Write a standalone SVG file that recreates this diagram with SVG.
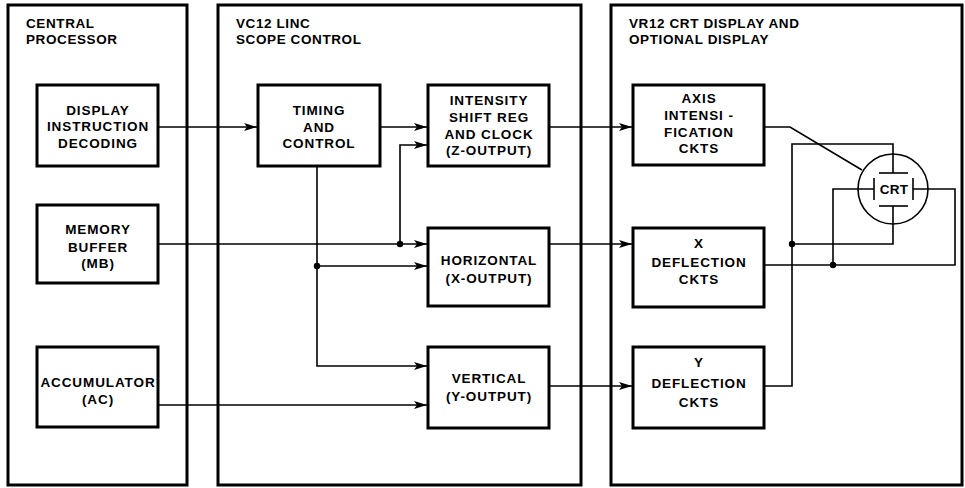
<svg xmlns="http://www.w3.org/2000/svg" width="965" height="488" viewBox="0 0 965 488">
<style>
.cont{fill:none;stroke:#000;stroke-width:3}
.box{fill:#fff;stroke:#000;stroke-width:3}
.ln{fill:none;stroke:#000;stroke-width:1.6}
.hd{font-family:"Liberation Sans",Arial,sans-serif;font-weight:bold;font-size:13.5px;letter-spacing:0.6px;fill:#000}
.t{font-family:"Liberation Sans",Arial,sans-serif;font-weight:bold;font-size:13.5px;letter-spacing:0.9px;fill:#000;text-anchor:middle}
.dot{fill:#000}
</style>
<defs>
<marker id="ah" markerUnits="userSpaceOnUse" markerWidth="14" markerHeight="10" refX="13" refY="4.5" orient="auto">
<path d="M0,0.5 L13,4.5 L0,8.5 L3,4.5 z" fill="#000"/>
</marker>
</defs>
<rect width="965" height="488" fill="#fff"/>

<g id="central-processor">
<rect class="cont" x="8" y="5" width="179" height="480"/>
<text class="hd" x="26" y="28">CENTRAL</text>
<text class="hd" x="26" y="44">PROCESSOR</text>
</g>
<g id="scope-control">
<rect class="cont" x="218" y="5" width="363" height="480"/>
<text class="hd" x="236" y="28">VC12 LINC</text>
<text class="hd" x="236" y="44">SCOPE CONTROL</text>
</g>
<g id="crt-display">
<rect class="cont" x="611" y="5" width="351" height="480"/>
<text class="hd" x="629" y="28">VR12 CRT DISPLAY AND</text>
<text class="hd" x="629" y="44">OPTIONAL DISPLAY</text>
</g>

<g id="connectors">
<line class="ln" x1="158" y1="127" x2="257" y2="127" marker-end="url(#ah)"/>
<line class="ln" x1="158" y1="244" x2="427" y2="244" marker-end="url(#ah)"/>
<line class="ln" x1="158" y1="405" x2="427" y2="405" marker-end="url(#ah)"/>
<line class="ln" x1="380" y1="127" x2="427" y2="127" marker-end="url(#ah)"/>
<polyline class="ln" points="400,244 400,145 427,145" marker-end="url(#ah)"/>
<polyline class="ln" points="317,166 317,366 427,366" marker-end="url(#ah)"/>
<line class="ln" x1="317" y1="266" x2="427" y2="266" marker-end="url(#ah)"/>
<line class="ln" x1="549" y1="127" x2="632" y2="127" marker-end="url(#ah)"/>
<line class="ln" x1="549" y1="244" x2="632" y2="244" marker-end="url(#ah)"/>
<line class="ln" x1="549" y1="386" x2="632" y2="386" marker-end="url(#ah)"/>
<polyline class="ln" points="764,127 790,127 862,170"/>
<polyline class="ln" points="764,386 792,386 792,144 893,144 893,173"/>
<polyline class="ln" points="893,206 893,244 792,244"/>
<polyline class="ln" points="874,189 833,189 833,265"/>
<polyline class="ln" points="764,265 955,265 955,189 913,189"/>
<circle class="dot" cx="400" cy="244" r="3.2"/>
<circle class="dot" cx="317" cy="266" r="3.2"/>
<circle class="dot" cx="792" cy="244" r="3.2"/>
<circle class="dot" cx="833" cy="265" r="3.2"/>
</g>

<g id="display-instruction-decoding">
<rect class="box" x="37" y="85" width="121" height="81"/>
<text class="t" x="98" y="115">DISPLAY</text>
<text class="t" x="98" y="131">INSTRUCTION</text>
<text class="t" x="98" y="148">DECODING</text>
</g>
<g id="memory-buffer">
<rect class="box" x="37" y="205" width="121" height="78"/>
<text class="t" x="98" y="234">MEMORY</text>
<text class="t" x="98" y="252">BUFFER</text>
<text class="t" x="98" y="268">(MB)</text>
</g>
<g id="accumulator">
<rect class="box" x="37" y="347" width="121" height="80"/>
<text class="t" x="98" y="387">ACCUMULATOR</text>
<text class="t" x="98" y="404">(AC)</text>
</g>
<g id="timing-and-control">
<rect class="box" x="258" y="85" width="122" height="81"/>
<text class="t" x="319" y="115">TIMING</text>
<text class="t" x="319" y="132">AND</text>
<text class="t" x="319" y="148">CONTROL</text>
</g>
<g id="intensity-shift-reg">
<rect class="box" x="428" y="85" width="121" height="81"/>
<text class="t" x="489" y="105">INTENSITY</text>
<text class="t" x="489" y="122">SHIFT REG</text>
<text class="t" x="489" y="139">AND CLOCK</text>
<text class="t" x="489" y="155">(Z-OUTPUT)</text>
</g>
<g id="horizontal">
<rect class="box" x="428" y="228" width="121" height="78"/>
<text class="t" x="489" y="265">HORIZONTAL</text>
<text class="t" x="489" y="283">(X-OUTPUT)</text>
</g>
<g id="vertical">
<rect class="box" x="428" y="347" width="121" height="81"/>
<text class="t" x="489" y="383">VERTICAL</text>
<text class="t" x="489" y="401">(Y-OUTPUT)</text>
</g>
<g id="axis-intensification">
<rect class="box" x="633" y="85" width="131" height="80"/>
<text class="t" x="699" y="103">AXIS</text>
<text class="t" x="699" y="120">INTENSI -</text>
<text class="t" x="699" y="137">FICATION</text>
<text class="t" x="699" y="153">CKTS</text>
</g>
<g id="x-deflection">
<rect class="box" x="633" y="228" width="131" height="79"/>
<text class="t" x="699" y="248">X</text>
<text class="t" x="699" y="267">DEFLECTION</text>
<text class="t" x="699" y="284">CKTS</text>
</g>
<g id="y-deflection">
<rect class="box" x="633" y="347" width="131" height="81"/>
<text class="t" x="699" y="367">Y</text>
<text class="t" x="699" y="388">DEFLECTION</text>
<text class="t" x="699" y="407">CKTS</text>
</g>
<g id="crt">
<circle cx="893" cy="189" r="35" fill="none" stroke="#000" stroke-width="1.6"/>
<line class="ln" x1="879" y1="173" x2="908" y2="173" stroke-width="2"/>
<line class="ln" x1="879" y1="206" x2="908" y2="206" stroke-width="2"/>
<line class="ln" x1="874" y1="178" x2="874" y2="200" stroke-width="2"/>
<line class="ln" x1="913" y1="178" x2="913" y2="200" stroke-width="2"/>
<text class="t" x="894" y="194" style="letter-spacing:0.3px">CRT</text>
</g>
</svg>
